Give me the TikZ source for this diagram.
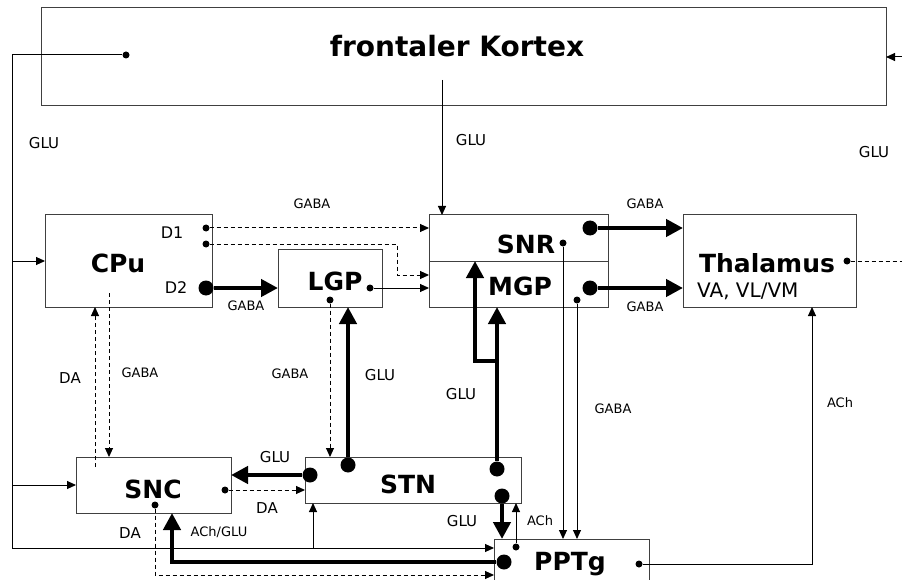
\documentclass[tikz,border=0pt]{standalone}
\usepackage{fontspec}
\setmainfont{DejaVu Sans}
\usetikzlibrary{arrows.meta,calc,positioning}

\begin{document}
\begin{tikzpicture}[x=1pt,y=-1pt,
  box/.style={draw=black!75,line width=1pt,inner sep=0pt,outer sep=0pt},
  nucl/.style={font=\fontsize{25}{25}\selectfont\bfseries,inner sep=0pt,anchor=base},
  lbl/.style={font=\fontsize{15}{15}\selectfont,inner sep=0pt},
  slbl/.style={font=\fontsize{13}{13}\selectfont,inner sep=0pt},
  dotS/.style={circle,fill,inner sep=0pt,minimum size=7pt},
  dotB/.style={circle,fill,inner sep=0pt,minimum size=15pt},
  ln/.style={line width=1pt,-{Triangle[length=9pt,width=8pt]}},
  dsh/.style={ln,dash pattern=on 4pt off 3pt},
  thk/.style={line width=4.5pt,-{Triangle[length=17pt,width=17pt]}}]
  \clip (0,0) rectangle (902,580);
  \fill[white] (0,0) rectangle (902,580);

  % boxes
  \node[box,minimum width=845pt,minimum height=98pt] (ctx) at (463.5,57) {};
  \node[box,minimum width=167pt,minimum height=92pt] (cpu) at (128.5,261) {};
  \node[box,minimum width=104pt,minimum height=58pt] (lgp) at (330,278) {};
  \node[box,minimum width=179pt,minimum height=46pt] (snr) at (518.5,238) {};
  \node[box,minimum width=179pt,minimum height=46pt] (mgp) at (518.5,284) {};
  \node[box,minimum width=173pt,minimum height=92pt] (thal) at (769.5,261) {};
  \node[box,minimum width=155pt,minimum height=56pt] (snc) at (153.5,485) {};
  \node[box,minimum width=216pt,minimum height=46pt] (stn) at (413,480) {};
  \node[box,minimum width=155pt,minimum height=61pt] (pptg) at (571.5,569.5) {};

  \node[nucl,font=\fontsize{28}{28}\selectfont\bfseries] (ctxname) at (457,57) {frontaler Kortex};
  \node[nucl] (cpuname) at (118,272) {CPu};
  \node[nucl] (lgpname) at (335,290) {LGP};
  \node[nucl] (snrname) at (526,253) {SNR};
  \node[nucl] (mgpname) at (520,295) {MGP};
  \node[nucl] (thalname) at (767,272) {Thalamus};
  \node[inner sep=0pt,anchor=base west,font=\fontsize{20}{20}\selectfont] (thalsub) at (697,297) {VA, VL/VM};
  \node[nucl] (sncname) at (153,498) {SNC};
  \node[nucl] (stnname) at (408,493) {STN};
  \node[nucl] (pptgname) at (570,570) {PPTg};
  \node[inner sep=0pt,anchor=base,font=\fontsize{16}{16}\selectfont] (d1name) at (172,238) {D1};
  \node[inner sep=0pt,anchor=base,font=\fontsize{16}{16}\selectfont] (d2name) at (176,293) {D2};

  % dots
  \node[dotS] (ctxdot) at (126,55) {};
  \node[dotS] (d1a) at (206,228) {};
  \node[dotS] (d1b) at (206,244) {};
  \node[dotB] (d2) at (206,288) {};
  \node[dotS] (lgpr) at (370,288) {};
  \node[dotS] (lgpb) at (330,300) {};
  \node[dotS] (snrdot) at (563,243) {};
  \node[dotS] (mgpdot) at (577,300) {};
  \node[dotB] (snrbig) at (590,228) {};
  \node[dotB] (mgpbig) at (590,288) {};
  \node[dotS] (thaldot) at (847,261) {};
  \node[dotB] (stnL) at (310,475) {};
  \node[dotB] (stnT) at (348,465) {};
  \node[dotB] (stnR1) at (497,469) {};
  \node[dotB] (stnR2) at (502,496) {};
  \node[dotS] (sncR) at (225,490) {};
  \node[dotS] (sncB) at (155,505) {};
  \node[dotS] (pptgA) at (516,547) {};
  \node[dotB] (pptgB) at (504,562) {};
  \node[dotS] (pptgR) at (639,564) {};

  % free ends and bends
  \coordinate (bl) at (12,548);
  \coordinate (stnup) at (313,548);
  \coordinate (thout) at (902,261);
  \coordinate (ctxin) at (902,57);
  \coordinate (ctxout) at (442,80);
  \coordinate (d1k) at (397,275);
  \coordinate (brk) at (475,361);
  \coordinate (thk1) at (812,564);
  \coordinate (cpuo) at (109,293);
  \coordinate (snco) at (95,467);
  \coordinate (sncd) at (155,575);
  \coordinate (pk) at (172,562);

  % connectors
  \draw[ln] (ctxdot) -| (bl) -- (bl -| pptg.west);
  \draw[ln] (bl |- cpu.west) -- (cpu.west);
  \draw[ln] (bl |- snc.west) -- (snc.west);
  \draw[ln] (stnup) -- (stnup |- stn.south);
  \draw[dsh,-] (thaldot) -- (thout);
  \draw[ln] (ctxin) -- (ctxin -| ctx.east);
  \draw[ln] (ctxout) -- (ctxout |- snr.north);
  \draw[dsh] (d1a) -- (d1a -| snr.west);
  \draw[dsh] (d1b) -| (d1k) -- (d1k -| mgp.west);
  \draw[thk] (d2) -- (d2 -| lgp.west);
  \draw[ln] (lgpr) -- (lgpr -| mgp.west);
  \draw[dsh] (lgpb) -- (lgpb |- stn.north);
  \draw[thk] (stnT) -- (stnT |- lgp.south);
  \draw[thk] (stnR1) -- (stnR1 |- mgp.south);
  \draw[thk] (stnR1 |- brk) -| (brk |- snr.south);
  \draw[thk] (stnR2) -- (stnR2 |- pptg.north);
  \draw[ln] (pptgA) -- (pptgA |- stn.south);
  \draw[ln] (snrdot) -- (snrdot |- pptg.north);
  \draw[ln] (mgpdot) -- (mgpdot |- pptg.north);
  \draw[thk] (snrbig) -- (snrbig -| thal.west);
  \draw[thk] (mgpbig) -- (mgpbig -| thal.west);
  \draw[ln] (pptgR) -- (thk1) -- (thk1 |- thal.south);
  \draw[dsh] (cpuo) -- (cpuo |- snc.north);
  \draw[dsh] (snco) -- (snco |- cpu.south);
  \draw[thk] (stnL) -- (stnL -| snc.east);
  \draw[dsh] (sncR) -- (sncR -| stn.west);
  \draw[dsh] (sncB) -- (sncd) -- (sncd -| pptg.west);
  \draw[thk] (pptgB) -- (pk) -- (pk |- snc.south);

  % transmitter labels
  \node[lbl] (l1) at (44,143) {GLU};
  \node[lbl] (l2) at (471,140) {GLU};
  \node[lbl] (l3) at (874,152) {GLU};
  \node[slbl] (l4) at (312,204) {GABA};
  \node[slbl] (l5) at (246,306) {GABA};
  \node[lbl] (l6) at (70,378) {DA};
  \node[slbl] (l7) at (140,373) {GABA};
  \node[slbl] (l8) at (290,374) {GABA};
  \node[lbl] (l9) at (380,375) {GLU};
  \node[lbl] (l10) at (461,394) {GLU};
  \node[slbl] (l11) at (645,204) {GABA};
  \node[slbl] (l12) at (645,307) {GABA};
  \node[slbl] (l13) at (613,409) {GABA};
  \node[slbl] (l14) at (840,403) {ACh};
  \node[lbl] (l15) at (275,457) {GLU};
  \node[lbl] (l16) at (267,508) {DA};
  \node[lbl] (l17) at (130,533) {DA};
  \node[slbl] (l18) at (219,532) {ACh/GLU};
  \node[lbl] (l19) at (462,521) {GLU};
  \node[slbl] (l20) at (540,521) {ACh};
\end{tikzpicture}
\end{document}
